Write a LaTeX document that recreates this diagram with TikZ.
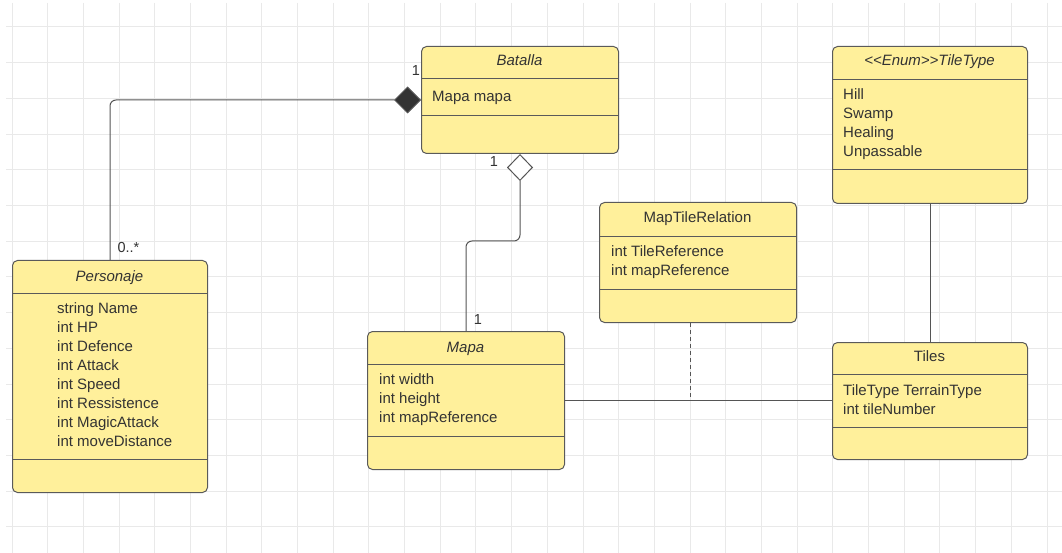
\documentclass[tikz,border=0pt]{standalone}
\usepackage{fontspec}
\setmainfont{Liberation Sans}
\usetikzlibrary{arrows.meta}
\definecolor{boxfill}{HTML}{FFF09B}
\definecolor{boxline}{HTML}{5A5A5A}
\definecolor{txt}{HTML}{333333}
\definecolor{gridc}{HTML}{E9E9E9}
\definecolor{connc}{HTML}{555555}
\begin{document}
\begin{tikzpicture}[x=1pt,y=-1pt,
  clsbox/.style 2 args={draw=boxline, fill=boxfill, line width=1pt, rounded corners=5pt,
     inner sep=0pt, anchor=north west, minimum width=#1pt, minimum height=#2pt},
  divline/.style={draw=boxline, line width=1pt},
  ttl/.style={font=\itshape\fontsize{15}{18}\selectfont, text=txt, inner sep=0pt, anchor=base},
  ttlup/.style={font=\fontsize{15}{18}\selectfont, text=txt, inner sep=0pt, anchor=base},
  itm/.style={font=\fontsize{15}{18}\selectfont, text=txt, inner sep=0pt, anchor=base west},
  lbl/.style={font=\fontsize{14.5}{18}\selectfont, text=txt, inner sep=0pt, anchor=base},
  conn/.style={draw=connc, line width=1pt},
  gridline/.style={draw=gridc, line width=1pt}]
\useasboundingbox (0,0) rectangle (1062,553);
\fill[white] (0,0) rectangle (1062,553);
% grid
\foreach \i in {0,...,29} \draw[gridline] ({12+35.69*\i},3) -- ({12+35.69*\i},553);
\foreach \j in {0,...,14} \draw[gridline] (6,{27+35.71*\j}) -- (1062,{27+35.71*\j});

% Batalla
\node[clsbox={197}{107}] (batalla) at (421,46) {};
\draw[divline] (batalla.west |- 0,79) -- (batalla.east |- 0,79);
\draw[divline] (batalla.west |- 0,116) -- (batalla.east |- 0,116);
\node[ttl] (batallaT) at (519.5,66) {Batalla};
\node[itm] (batallaA) at (432,101.5) {Mapa mapa};

% TileType
\node[clsbox={195}{157}] (tiletype) at (832,46) {};
\draw[divline] (tiletype.west |- 0,80) -- (tiletype.east |- 0,80);
\draw[divline] (tiletype.west |- 0,170) -- (tiletype.east |- 0,170);
\node[ttl] (tiletypeT) at (929.5,66) {<\kern0pt<\kern0pt Enum>\kern0pt>\kern0pt TileType};
\node[itm] (tt1) at (843,100) {Hill};
\node[itm] (tt2) at (843,119) {Swamp};
\node[itm] (tt3) at (843,138) {Healing};
\node[itm] (tt4) at (843,157) {Unpassable};

% Personaje
\node[clsbox={195}{232}] (pers) at (12,260) {};
\draw[divline] (pers.west |- 0,293) -- (pers.east |- 0,293);
\draw[divline] (pers.west |- 0,459) -- (pers.east |- 0,459);
\node[ttl] (persT) at (109.5,281) {Personaje};
\node[itm] (p1) at (57,313) {string Name};
\node[itm] (p2) at (57,332) {int HP};
\node[itm] (p3) at (57,351) {int Defence};
\node[itm] (p4) at (57,370) {int Attack};
\node[itm] (p5) at (57,389) {int Speed};
\node[itm] (p6) at (57,408) {int Ressistence};
\node[itm] (p7) at (57,427) {int MagicAttack};
\node[itm] (p8) at (57,446) {int moveDistance};

% Mapa
\node[clsbox={197}{138}] (mapa) at (367,331) {};
\draw[divline] (mapa.west |- 0,364) -- (mapa.east |- 0,364);
\draw[divline] (mapa.west |- 0,436) -- (mapa.east |- 0,436);
\node[ttl] (mapaT) at (465.5,352) {Mapa};
\node[itm] (m1) at (379,384) {int width};
\node[itm] (m2) at (379,403) {int height};
\node[itm] (m3) at (379,422) {int mapReference};

% MapTileRelation
\node[clsbox={197}{120}] (mtr) at (599,202) {};
\draw[divline] (mtr.west |- 0,237) -- (mtr.east |- 0,237);
\draw[divline] (mtr.west |- 0,289) -- (mtr.east |- 0,289);
\node[ttlup] (mtrT) at (697.5,223) {MapTileRelation};
\node[itm] (r1) at (611,256.5) {int TileReference};
\node[itm] (r2) at (611,275.5) {int mapReference};

% Tiles
\node[clsbox={195}{117}] (tiles) at (832,342) {};
\draw[divline] (tiles.west |- 0,374) -- (tiles.east |- 0,374);
\draw[divline] (tiles.west |- 0,427) -- (tiles.east |- 0,427);
\node[ttlup] (tilesT) at (929.5,361.5) {Tiles};
\node[itm] (t1) at (843,395) {TileType TerrainType};
\node[itm] (t2) at (843,414) {int tileNumber};

% connectors
\draw[conn, rounded corners=6pt, -{Diamond[length=27pt, width=27pt, fill=txt]}]
  (pers.north) -- (pers.north |- batalla.west) -- (batalla.west);
\draw[conn, rounded corners=6pt, -{Diamond[length=27pt, width=26pt, fill=white]}]
  (mapa.north) -- (mapa.north |- 0,241) -- (batalla.south |- 0,241) -- (batalla.south);
\draw[conn] (mapa.east) -- (mapa.east -| tiles.west);
\coordinate (junc) at (690.5,400);
\draw[conn, dash pattern=on 4pt off 3pt] (mtr.south -| junc) -- (junc);
\draw[conn] (tiletype.south) -- (tiles.north);

% multiplicities
\node[lbl] (m1a) at (416,76) {1};
\node[lbl] (m0n) at (128.5,252.5) {0..*};
\node[lbl] (m1b) at (494,167) {1};
\node[lbl] (m1c) at (478,324) {1};
\end{tikzpicture}
\end{document}
